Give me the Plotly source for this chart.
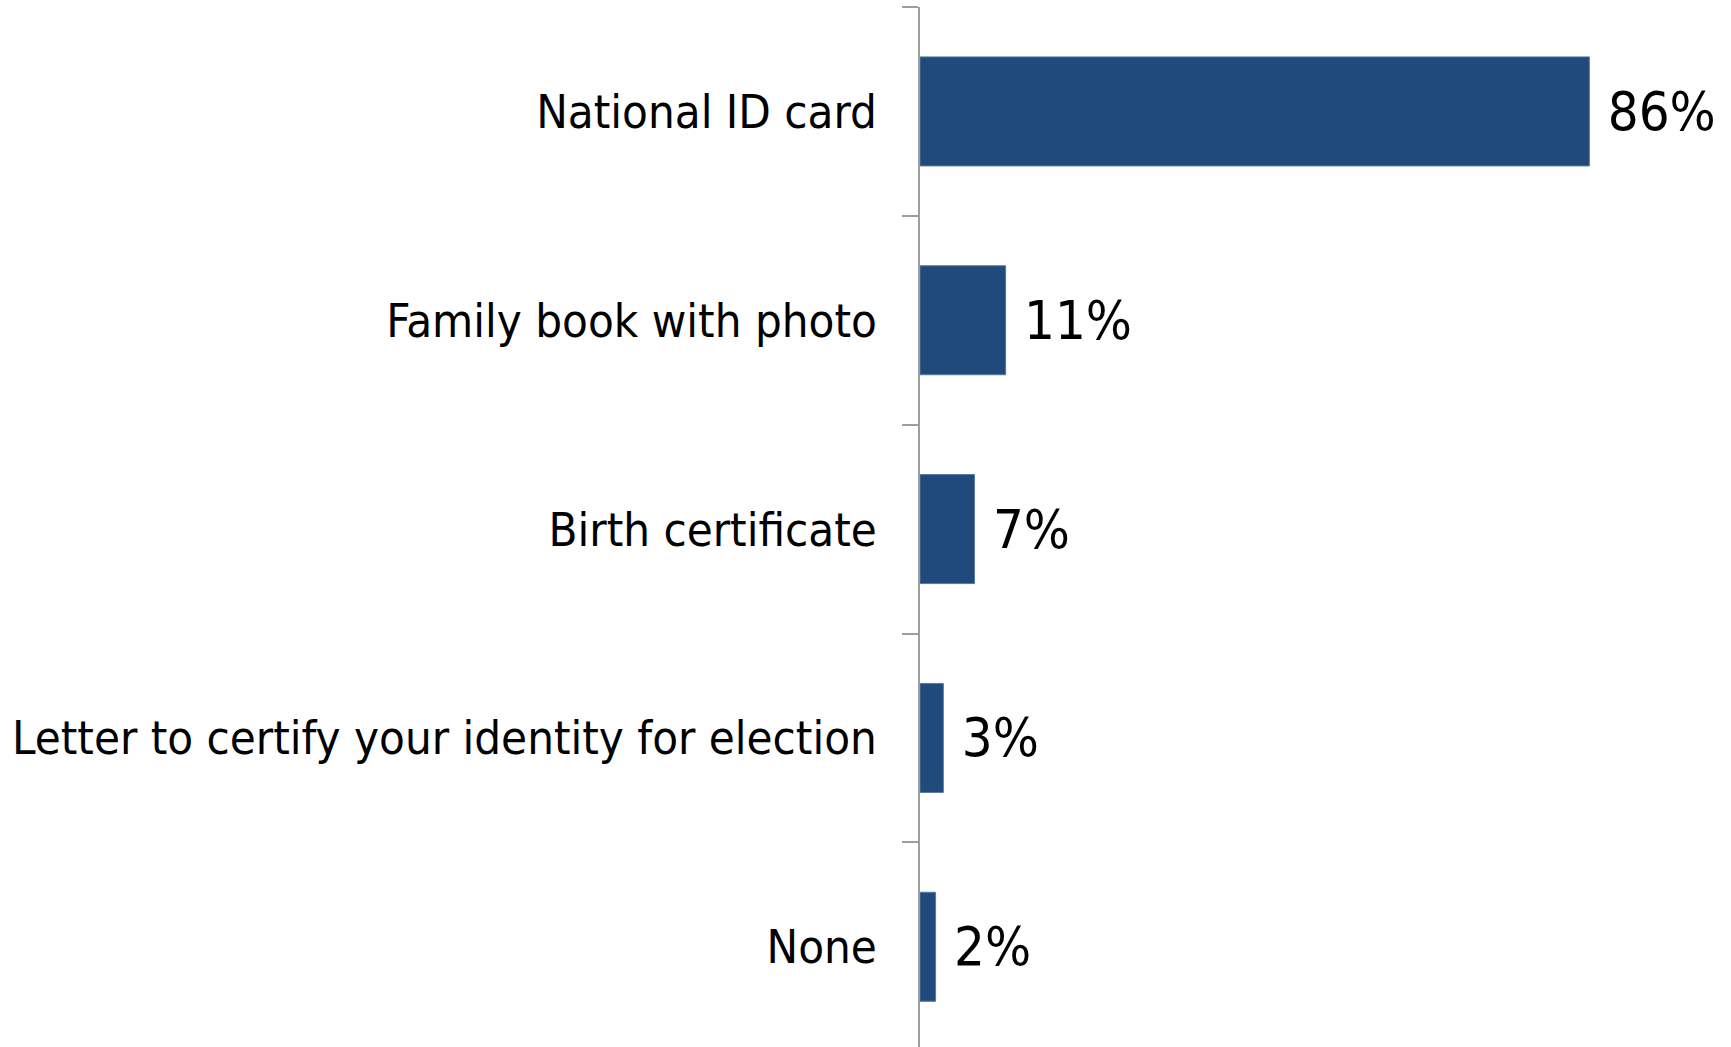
import plotly.graph_objects as go

# Forms of identification held by respondents
categories = [
    "National ID card",
    "Family book with photo",
    "Birth certificate",
    "Letter to certify your identity for election",
    "None",
]
shares = [86, 11, 7, 3, 2]

bar_color = "#214A7C"
font_family = "DejaVu Sans Condensed, Liberation Sans, sans-serif"

fig = go.Figure(
    go.Bar(
        x=shares,
        y=categories,
        orientation="h",
        marker=dict(color=bar_color, line=dict(color="#5777A3", width=1)),
        width=0.522,
        text=[f"\u00a0{v}%" for v in shares],
        textposition="outside",
        textfont=dict(family=font_family, size=54, color="#000000"),
        cliponaxis=False,
        hoverinfo="skip",
    )
)

fig.update_layout(
    width=1731,
    height=1047,
    margin=dict(l=920, r=0, t=7, b=0),
    paper_bgcolor="#FFFFFF",
    plot_bgcolor="#FFFFFF",
    showlegend=False,
    font=dict(family=font_family, color="#000000"),
    xaxis=dict(
        range=[0, 104.2],
        visible=False,
        showgrid=False,
        zeroline=False,
    ),
    yaxis=dict(
        type="category",
        categoryorder="array",
        categoryarray=categories,
        range=[4.48, -0.5],
        automargin=False,
        showline=True,
        linecolor="#9E9E9E",
        linewidth=1.5,
        ticks="outside",
        tickson="boundaries",
        ticklen=16,
        tickwidth=1.5,
        tickcolor="#9E9E9E",
        ticklabelstandoff=32,
        tickfont=dict(family=font_family, size=47, color="#000000"),
        showgrid=False,
        zeroline=False,
    ),
)

fig.write_html("out.html")
